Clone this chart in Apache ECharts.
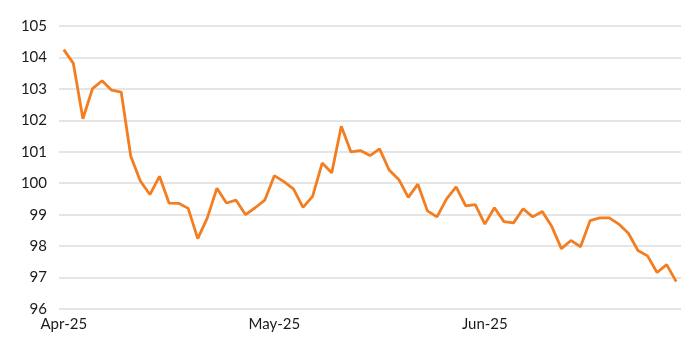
<!DOCTYPE html>
<html>
<head>
<meta charset="utf-8">
<script src="https://cdn.jsdelivr.net/npm/echarts@6/dist/echarts.min.js"></script>
<style>
html,body{margin:0;padding:0;background:#fff;}
#chart{width:700px;height:350px;}
</style>
</head>
<body>
<div id="chart"></div>
<script>
var dates = [
  "2025-04-01","2025-04-02","2025-04-03","2025-04-04","2025-04-07","2025-04-08","2025-04-09","2025-04-10","2025-04-11",
  "2025-04-14","2025-04-15","2025-04-16","2025-04-17","2025-04-18","2025-04-21","2025-04-22","2025-04-23","2025-04-24",
  "2025-04-25","2025-04-28","2025-04-29","2025-04-30",
  "2025-05-01","2025-05-02","2025-05-05","2025-05-06","2025-05-07","2025-05-08","2025-05-09","2025-05-12","2025-05-13",
  "2025-05-14","2025-05-15","2025-05-16","2025-05-19","2025-05-20","2025-05-21","2025-05-22","2025-05-23","2025-05-26",
  "2025-05-27","2025-05-28","2025-05-29","2025-05-30",
  "2025-06-02","2025-06-03","2025-06-04","2025-06-05","2025-06-06","2025-06-09","2025-06-10","2025-06-11","2025-06-12",
  "2025-06-13","2025-06-16","2025-06-17","2025-06-18","2025-06-19","2025-06-20","2025-06-23","2025-06-24","2025-06-25",
  "2025-06-26","2025-06-27","2025-06-30"
];
var values = [
  104.25,103.81,102.05,103.01,103.26,102.96,102.90,100.86,100.07,99.64,
  100.22,99.37,99.36,99.20,98.24,98.90,99.84,99.37,99.46,99.00,
  99.22,99.46,100.24,100.05,99.82,99.23,99.58,100.64,100.33,101.81,
  101.00,101.04,100.88,101.09,100.42,100.12,99.55,99.97,99.12,98.93,
  99.50,99.88,99.28,99.32,98.70,99.22,98.78,98.74,99.19,98.93,
  99.10,98.62,97.92,98.18,97.98,98.81,98.90,98.90,98.70,98.41,
  97.86,97.69,97.16,97.41,96.87
];
var monthNames = ["Jan","Feb","Mar","Apr","May","Jun","Jul","Aug","Sep","Oct","Nov","Dec"];
var yMin = 96, yMax = 105, yStep = 1;

function isMonthStart(i) {
  return i === 0 || dates[i].slice(5, 7) !== dates[i - 1].slice(5, 7);
}
function monthLabel(d) {
  return monthNames[parseInt(d.slice(5, 7), 10) - 1] + "-" + d.slice(2, 4);
}

var chart = echarts.init(document.getElementById('chart'), null, {renderer: 'canvas'});
chart.setOption({
  animation: false,
  backgroundColor: '#ffffff',
  textStyle: {fontFamily: 'Lato'},
  grid: {left: 59, right: 19, top: 26, bottom: 41, containLabel: false},
  xAxis: {
    type: 'category',
    data: dates,
    boundaryGap: true,
    axisLine: {show: false},
    axisTick: {show: false},
    splitLine: {show: false},
    axisLabel: {
      interval: function (i) { return isMonthStart(i); },
      formatter: function (v) { return monthLabel(v); },
      color: '#1a1a1a',
      fontSize: 15,
      fontFamily: 'Lato',
      margin: 8
    }
  },
  yAxis: {
    type: 'value',
    min: yMin,
    max: yMax,
    interval: yStep,
    axisLine: {show: false},
    axisTick: {show: false},
    axisLabel: {color: '#1a1a1a', fontSize: 15, fontFamily: 'Lato', margin: 12},
    splitLine: {lineStyle: {color: '#dcdcdc', width: 1.5}}
  },
  series: [{
    type: 'line',
    data: values,
    symbol: 'none',
    smooth: false,
    lineStyle: {color: '#F47D20', width: 2.8},
    itemStyle: {color: '#F47D20'}
  }]
});
</script>
</body>
</html>
